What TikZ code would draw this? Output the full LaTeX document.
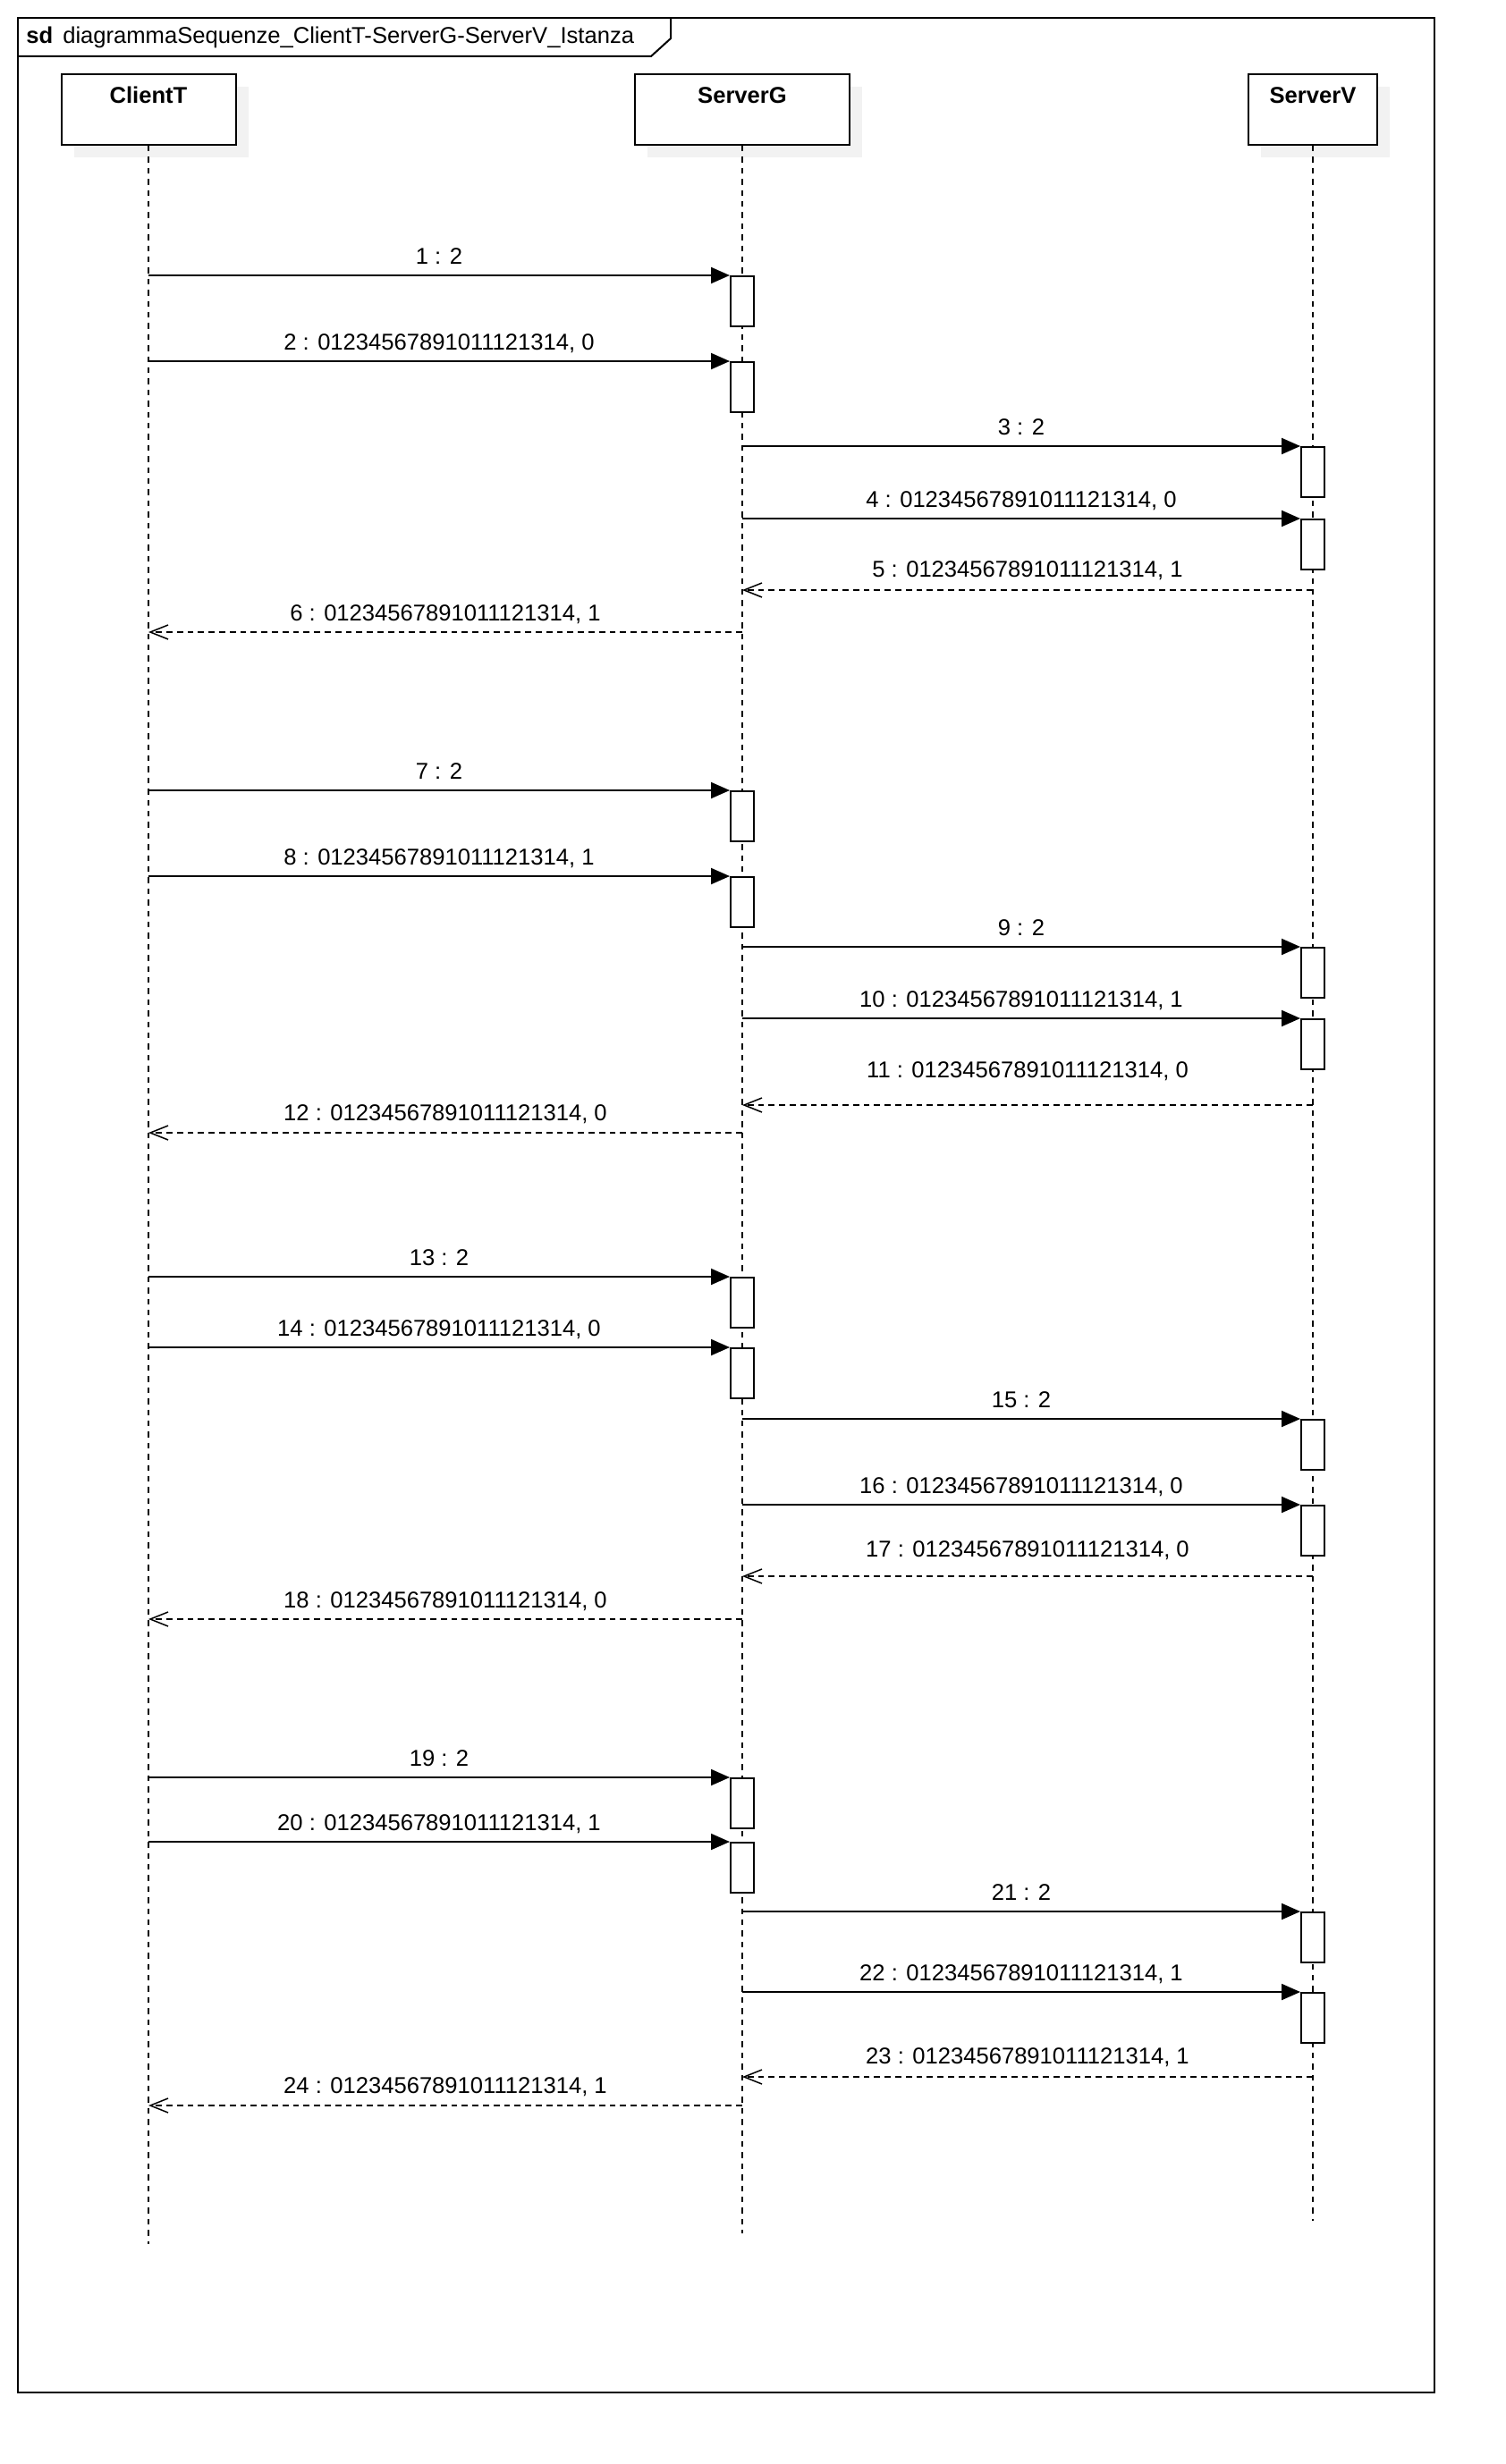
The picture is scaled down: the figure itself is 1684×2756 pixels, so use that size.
\documentclass[tikz,border=0pt]{standalone}
\usepackage{fontspec}
\setmainfont{Liberation Sans}
\usepackage{tikz}
\usetikzlibrary{arrows.meta}

\definecolor{shadowgray}{HTML}{F2F2F2}

\tikzset{
    head/.style={draw, line width=1pt, fill=white, minimum height=39.5pt, inner sep=0pt},
    headshade/.style={fill=shadowgray, minimum height=39.5pt, inner sep=0pt},
    headlabel/.style={font=\bfseries, anchor=base, inner sep=0pt},
    life/.style={line width=0.75pt, dash pattern=on 3.2pt off 3pt},
    act/.style={draw, line width=1pt, fill=white, minimum width=13pt, minimum height=28pt, inner sep=0pt, anchor=north},
    call/.style={line width=1pt, -{Triangle[length=10.5pt, width=9pt]}},
    ret/.style={line width=0.75pt, dash pattern=on 3.4pt off 2.5pt, -{Straight Barb[length=10pt, width=8pt, line width=0.75pt]}},
    msglabel/.style={midway, anchor=base, inner sep=0pt, yshift=#1},
    msglabel/.default=6.5pt
}

\begin{document}
\fontsize{12.8}{15}\selectfont
\begin{tikzpicture}[x=0.5pt, y=-0.5pt]

    \useasboundingbox (0,0) rectangle (1684,2756);

    \draw[line width=1pt] (20,20) rectangle (1604,2676);
    \draw[line width=1pt] (20,63) -- (728,63) -- (750,43) -- (750,20);
    \node[anchor=base west, inner sep=0pt] (title) at (29,49) {\textbf{sd}\hspace{5.5pt}diagrammaSequenze\_ClientT-ServerG-ServerV\_Istanza};

    \node[headshade, minimum width=97.5pt] (clientTshade) at (180,136.5) {};
    \node[headshade, minimum width=120pt] (serverGshade) at (844,136.5) {};
    \node[headshade, minimum width=72pt] (serverVshade) at (1482,136.5) {};

    \node[head, minimum width=97.5pt] (clientT) at (166,122.5) {};
    \node[head, minimum width=120pt] (serverG) at (830,122.5) {};
    \node[head, minimum width=72pt] (serverV) at (1468,122.5) {};

    \node[headlabel] (clientTname) at ([yshift=-17pt]clientT.north) {ClientT};
    \node[headlabel] (serverGname) at ([yshift=-17pt]serverG.north) {ServerG};
    \node[headlabel] (serverVname) at ([yshift=-17pt]serverV.north) {ServerV};

    \coordinate (clientTend) at (166,2510);
    \coordinate (serverGend) at (830,2498);
    \coordinate (serverVend) at (1468,2484);
    \draw[life] (clientT.south) -- (clientTend);
    \draw[life] (serverG.south) -- (serverGend);
    \draw[life] (serverV.south) -- (serverVend);

    \node[act] (a1) at (830,308) {};
    \node[act] (a2) at (830,404) {};
    \node[act] (a3) at (1468,499) {};
    \node[act] (a4) at (1468,580) {};
    \coordinate (r5) at (1150,660);
    \coordinate (r6) at (500,707);
    \draw[call] (clientT |- a1.north) -- (a1.north west) node[msglabel] {1 : 2};
    \draw[call] (clientT |- a2.north) -- (a2.north west) node[msglabel] {2 : 01234567891011121314, 0};
    \draw[call] (serverG |- a3.north) -- (a3.north west) node[msglabel] {3 : 2};
    \draw[call] (serverG |- a4.north) -- (a4.north west) node[msglabel] {4 : 01234567891011121314, 0};
    \draw[ret] (serverV |- r5) -- (serverG |- r5) node[msglabel=7.5pt] {5 : 01234567891011121314, 1};
    \draw[ret] (serverG |- r6) -- (clientT |- r6) node[msglabel] {6 : 01234567891011121314, 1};

    \node[act] (a7) at (830,884) {};
    \node[act] (a8) at (830,980) {};
    \node[act] (a9) at (1468,1059) {};
    \node[act] (a10) at (1468,1139) {};
    \coordinate (r11) at (1150,1236);
    \coordinate (r12) at (500,1267);
    \draw[call] (clientT |- a7.north) -- (a7.north west) node[msglabel] {7 : 2};
    \draw[call] (clientT |- a8.north) -- (a8.north west) node[msglabel] {8 : 01234567891011121314, 1};
    \draw[call] (serverG |- a9.north) -- (a9.north west) node[msglabel] {9 : 2};
    \draw[call] (serverG |- a10.north) -- (a10.north west) node[msglabel] {10 : 01234567891011121314, 1};
    \draw[ret] (serverV |- r11) -- (serverG |- r11) node[msglabel=15.5pt] {11 : 01234567891011121314, 0};
    \draw[ret] (serverG |- r12) -- (clientT |- r12) node[msglabel=7pt] {12 : 01234567891011121314, 0};

    \node[act] (a13) at (830,1428) {};
    \node[act] (a14) at (830,1507) {};
    \node[act] (a15) at (1468,1587) {};
    \node[act] (a16) at (1468,1683) {};
    \coordinate (r17) at (1150,1763);
    \coordinate (r18) at (500,1811);
    \draw[call] (clientT |- a13.north) -- (a13.north west) node[msglabel] {13 : 2};
    \draw[call] (clientT |- a14.north) -- (a14.north west) node[msglabel] {14 : 01234567891011121314, 0};
    \draw[call] (serverG |- a15.north) -- (a15.north west) node[msglabel] {15 : 2};
    \draw[call] (serverG |- a16.north) -- (a16.north west) node[msglabel] {16 : 01234567891011121314, 0};
    \draw[ret] (serverV |- r17) -- (serverG |- r17) node[msglabel=11pt] {17 : 01234567891011121314, 0};
    \draw[ret] (serverG |- r18) -- (clientT |- r18) node[msglabel] {18 : 01234567891011121314, 0};

    \node[act] (a19) at (830,1988) {};
    \node[act] (a20) at (830,2060) {};
    \node[act] (a21) at (1468,2138) {};
    \node[act] (a22) at (1468,2228) {};
    \coordinate (r23) at (1150,2323);
    \coordinate (r24) at (500,2355);
    \draw[call] (clientT |- a19.north) -- (a19.north west) node[msglabel] {19 : 2};
    \draw[call] (clientT |- a20.north) -- (a20.north west) node[msglabel] {20 : 01234567891011121314, 1};
    \draw[call] (serverG |- a21.north) -- (a21.north west) node[msglabel] {21 : 2};
    \draw[call] (serverG |- a22.north) -- (a22.north west) node[msglabel] {22 : 01234567891011121314, 1};
    \draw[ret] (serverV |- r23) -- (serverG |- r23) node[msglabel=7.5pt] {23 : 01234567891011121314, 1};
    \draw[ret] (serverG |- r24) -- (clientT |- r24) node[msglabel=7pt] {24 : 01234567891011121314, 1};

\end{tikzpicture}
\end{document}
